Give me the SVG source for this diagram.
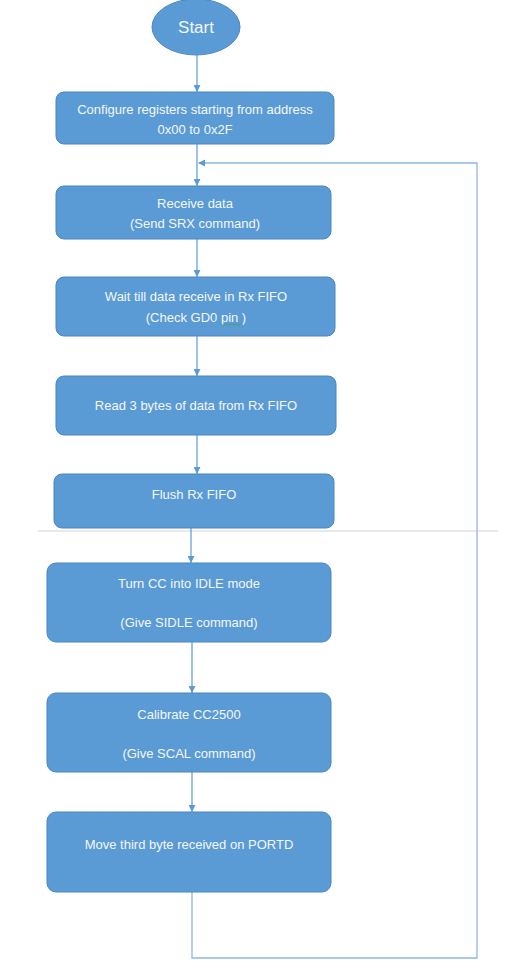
<svg xmlns="http://www.w3.org/2000/svg" width="510" height="970" viewBox="0 0 510 970">
<defs>
<style>
.box{fill:#5b9bd5;stroke:#4a86c0;stroke-width:1}
.t{font-family:"Liberation Sans",Arial,sans-serif;font-size:13px;fill:#f4f7fb;text-anchor:middle}
.c{stroke:#5b9bd5;stroke-width:1.2;fill:none}
.loop{stroke:#8fb8e3;stroke-width:1.3;fill:none}
</style>
<marker id="ah" viewBox="0 0 10 10" refX="10" refY="5" markerWidth="7" markerHeight="7" markerUnits="userSpaceOnUse" orient="auto">
<path d="M0,0 L10,5 L0,10 z" fill="#5b9bd5"/>
</marker>
</defs>
<rect width="510" height="970" fill="#ffffff"/>
<line x1="38" y1="531" x2="498" y2="531" stroke="#d4d4d4" stroke-width="1.2"/>
<g id="connectors">
<line class="c" x1="197" y1="55" x2="197" y2="92" marker-end="url(#ah)"/>
<line class="c" x1="197" y1="144" x2="197" y2="186" marker-end="url(#ah)"/>
<line class="c" x1="197" y1="239" x2="197" y2="277" marker-end="url(#ah)"/>
<line class="c" x1="197" y1="336" x2="197" y2="376" marker-end="url(#ah)"/>
<line class="c" x1="197" y1="435" x2="197" y2="474" marker-end="url(#ah)"/>
<line class="c" x1="191" y1="528" x2="191" y2="563" marker-end="url(#ah)"/>
<line class="c" x1="192" y1="642" x2="192" y2="693" marker-end="url(#ah)"/>
<line class="c" x1="192" y1="772" x2="192" y2="812" marker-end="url(#ah)"/>
<polyline class="loop" points="192,892 192,958 477,958 477,163 199,163"/>
<path d="M198,163 L205,159.5 L205,166.5 z" fill="#5b9bd5"/>
</g>
<g id="start">
<ellipse cx="196" cy="27" rx="44" ry="28" fill="#5b9bd5" stroke="#4a86c0"/>
<text class="t" x="196" y="33" style="font-size:17px">Start</text>
</g>
<g id="configure">
<rect class="box" x="56" y="92" width="278" height="52" rx="8"/>
<text class="t" x="195" y="114">Configure registers starting from address</text>
<text class="t" x="195" y="134">0x00 to 0x2F</text>
</g>
<g id="receive">
<rect class="box" x="56" y="186" width="275" height="53" rx="8"/>
<text class="t" x="195" y="208">Receive data</text>
<text class="t" x="195" y="228">(Send SRX command)</text>
</g>
<g id="wait">
<rect class="box" x="56" y="277" width="279" height="59" rx="8"/>
<text class="t" x="196" y="301">Wait till data receive in Rx FIFO</text>
<text class="t" x="196" y="322">(Check GD0 pin )</text>
<path d="M220,324.5 q1.25,-1.5 2.5,0 t2.5,0 t2.5,0 t2.5,0 t2.5,0 t2.5,0 t2.5,0 t2.5,0 t2.5,0" stroke="#3fa14a" stroke-width="0.8" fill="none"/>
</g>
<g id="read">
<rect class="box" x="56" y="376" width="280" height="59" rx="8"/>
<text class="t" x="196" y="410">Read 3 bytes of data from Rx FIFO</text>
</g>
<g id="flush">
<rect class="box" x="54" y="474" width="280" height="54" rx="8"/>
<text class="t" x="194" y="499">Flush Rx FIFO</text>
</g>
<g id="idle">
<rect class="box" x="47" y="563" width="284" height="79" rx="9"/>
<text class="t" x="189" y="588">Turn CC into IDLE mode</text>
<text class="t" x="189" y="627">(Give SIDLE command)</text>
</g>
<g id="calibrate">
<rect class="box" x="47" y="693" width="284" height="79" rx="9"/>
<text class="t" x="189" y="719">Calibrate CC2500</text>
<text class="t" x="189" y="758">(Give SCAL command)</text>
</g>
<g id="move">
<rect class="box" x="47" y="812" width="284" height="80" rx="9"/>
<text class="t" x="189" y="849">Move third byte received on PORTD</text>
</g>
</svg>
